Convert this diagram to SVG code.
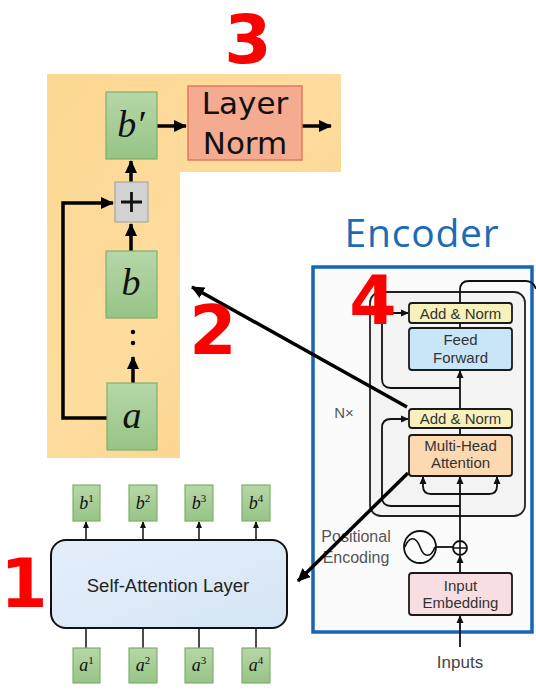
<svg xmlns="http://www.w3.org/2000/svg" width="536" height="695" viewBox="0 0 536 695">
<defs>
<linearGradient id="gOrange" x1="0" y1="0" x2="1" y2="1">
<stop offset="0" stop-color="#fdd892"/><stop offset="0.5" stop-color="#fddc9e"/><stop offset="1" stop-color="#fbd083"/>
</linearGradient>
<linearGradient id="gGreen" x1="0" y1="0" x2="0" y2="1">
<stop offset="0" stop-color="#b6d7a8"/><stop offset="1" stop-color="#97c486"/>
</linearGradient>
<linearGradient id="gBlue" x1="0" y1="0" x2="1" y2="1">
<stop offset="0" stop-color="#e4eefa"/><stop offset="1" stop-color="#d6e6f6"/>
</linearGradient>
<marker id="mThick" markerUnits="userSpaceOnUse" markerWidth="14" markerHeight="12" refX="12" refY="6" orient="auto">
<path d="M0,0 L13,6 L0,12 z" fill="#000"/>
</marker>
<marker id="mThin" markerUnits="userSpaceOnUse" markerWidth="8" markerHeight="8" refX="7" refY="4" orient="auto">
<path d="M0,0.5 L8,4 L0,7.5 z" fill="#111"/>
</marker>
<marker id="mSmall" markerUnits="userSpaceOnUse" markerWidth="7" markerHeight="6" refX="6" refY="3" orient="auto">
<path d="M0,0 L7,3 L0,6 z" fill="#111"/>
</marker>
<style>
.red{font-family:"DejaVu Sans",sans-serif;font-weight:bold;fill:#ff0000;font-size:68px;text-anchor:middle}
.gbox{fill:url(#gGreen);stroke:#7fb069;stroke-width:1.2}
.math{font-family:"Liberation Serif","DejaVu Serif",serif;font-style:italic;fill:#111;text-anchor:middle}
.enc{font-family:"Liberation Sans",Arial,sans-serif;font-size:15px;fill:#333;text-anchor:middle}
.ebox{stroke:#1a1a1a;stroke-width:1.8}
.thick{fill:none;stroke:#000;stroke-width:3.5}
.thin{fill:none;stroke:#111;stroke-width:1.8}
.sl{fill:none;stroke:#111;stroke-width:1.5}
</style>
</defs>
<rect width="536" height="695" fill="#fff"/>

<g id="residual-panel">
<path d="M47,74 H341 V172 H180 V458 H47 Z" fill="url(#gOrange)"/>
</g>

<g id="encoder-frame">
<rect x="313" y="267" width="219" height="365" fill="#fbfbfb" stroke="#1666b2" stroke-width="3.5"/>
<text x="422" y="247" font-family="'Open Sans','Noto Sans',sans-serif" font-size="39" letter-spacing="0.8" fill="#1a6cb5" text-anchor="middle">Encoder</text>
<rect x="370" y="292" width="155" height="224" rx="11" fill="#f3f3f3" stroke="#222" stroke-width="1.8"/>
<text x="344" y="418" font-family="'Liberation Sans',Arial,sans-serif" font-size="15" fill="#555" text-anchor="middle">N×</text>
</g>

<g id="connectors">
<path class="thick" d="M157,126 H186" marker-end="url(#mThick)"/>
<path class="thick" d="M302,126 H331" marker-end="url(#mThick)"/>
<path class="thick" d="M131,182 V161" marker-end="url(#mThick)"/>
<path class="thick" d="M131,251 V224" marker-end="url(#mThick)"/>
<path class="thick" d="M133,383 V357" marker-end="url(#mThick)"/>
<path class="thick" d="M107,418 H63 V203 H113" marker-end="url(#mThick)"/>
<circle cx="133" cy="332" r="2.2" fill="#000"/>
<circle cx="133" cy="343" r="2.2" fill="#000"/>

<path class="sl" d="M86,540 V522" marker-end="url(#mSmall)"/>
<path class="sl" d="M143,540 V522" marker-end="url(#mSmall)"/>
<path class="sl" d="M199,540 V522" marker-end="url(#mSmall)"/>
<path class="sl" d="M256,540 V522" marker-end="url(#mSmall)"/>
<path class="sl" d="M86,648 V628"/>
<path class="sl" d="M143,648 V628"/>
<path class="sl" d="M199,648 V628"/>
<path class="sl" d="M256,648 V628"/>

<path class="thin" d="M460,647 V616" marker-end="url(#mThin)"/>
<path class="thin" d="M460,573 V556" marker-end="url(#mThin)"/>
<path class="thin" d="M460,541 V477" marker-end="url(#mThin)"/>
<path class="thin" d="M460,494 H431 Q423,494 423,486 V477" marker-end="url(#mThin)"/>
<path class="thin" d="M460,494 H489 Q497,494 497,486 V477" marker-end="url(#mThin)"/>
<path class="thin" d="M460,435 V428"/>
<path class="thin" d="M460,409 V371" marker-end="url(#mThin)"/>
<path class="thin" d="M460,328 V323"/>
<path class="thin" d="M460,506 H391 Q382,506 382,497 V428 Q382,419 391,419 H408" marker-end="url(#mThin)"/>
<path class="thin" d="M460,388 H391 Q382,388 382,379 V322 Q382,313 391,313 H408" marker-end="url(#mThin)"/>
<path class="thin" d="M460,303 V290 Q460,281 469,281 H526 Q533,281 536,289"/>
<path class="thin" d="M436,547 H453"/>
</g>

<g id="pos-encoding">
<circle cx="420" cy="547" r="16" fill="none" stroke="#111" stroke-width="1.8"/>
<path d="M405,547 C409,536 416,536 420,547 C424,558 431,558 435,547" fill="none" stroke="#111" stroke-width="1.6"/>
<circle cx="460" cy="548" r="7" fill="#fff" stroke="#111" stroke-width="1.8"/>
<path d="M453,548 H467 M460,541 V555" stroke="#111" stroke-width="1.6"/>
<text x="356" y="542" font-family="'Liberation Sans',Arial,sans-serif" font-size="16" fill="#555" text-anchor="middle">Positional</text>
<text x="356" y="563" font-family="'Liberation Sans',Arial,sans-serif" font-size="16" fill="#555" text-anchor="middle">Encoding</text>
</g>

<g id="add-norm-top">
<rect class="ebox" x="409" y="303" width="103" height="20" rx="3" fill="#f7f2bb"/>
<text class="enc" x="460.5" y="318.5">Add &amp; Norm</text>
</g>
<g id="feed-forward">
<rect class="ebox" x="409" y="328" width="103" height="42" rx="3" fill="#c9e6f8"/>
<text class="enc" x="460.5" y="345">Feed</text>
<text class="enc" x="460.5" y="363">Forward</text>
</g>
<g id="add-norm-bottom">
<rect class="ebox" x="409" y="409" width="103" height="19" rx="3" fill="#f7f2bb"/>
<text class="enc" x="460.5" y="424">Add &amp; Norm</text>
</g>
<g id="multi-head-attention">
<rect class="ebox" x="409" y="435" width="103" height="41" rx="3" fill="#fcd9b0"/>
<text class="enc" x="460.5" y="451">Multi-Head</text>
<text class="enc" x="460.5" y="468">Attention</text>
</g>
<g id="input-embedding">
<rect class="ebox" x="409" y="573" width="103" height="42" rx="3" fill="#f8dde1"/>
<text class="enc" x="460.5" y="591">Input</text>
<text class="enc" x="460.5" y="608">Embedding</text>
</g>
<text x="460" y="668" font-family="'Liberation Sans',Arial,sans-serif" font-size="17" fill="#444" text-anchor="middle">Inputs</text>

<g id="b-prime">
<rect class="gbox" x="106" y="92" width="51" height="67"/>
<text class="math" x="131" y="137" font-size="38">b′</text>
</g>
<g id="layer-norm">
<rect x="188" y="86" width="114" height="74" fill="#f4ab90" stroke="#e27a5e" stroke-width="1.5"/>
<text x="245" y="114" font-family="'DejaVu Sans',sans-serif" font-size="31" fill="#111" text-anchor="middle">Layer</text>
<text x="245" y="154" font-family="'DejaVu Sans',sans-serif" font-size="31" fill="#111" text-anchor="middle">Norm</text>
</g>
<g id="plus">
<rect x="115" y="182" width="33" height="40" fill="#d2d2d2" stroke="#a8a8a8" stroke-width="1.2"/>
<path d="M121,202 H142 M131.5,192 V212" stroke="#111" stroke-width="2.8"/>
</g>
<g id="b">
<rect class="gbox" x="106" y="251" width="51" height="67"/>
<text class="math" x="131" y="295" font-size="38">b</text>
</g>
<g id="a">
<rect class="gbox" x="107" y="383" width="50" height="67"/>
<text class="math" x="132" y="428" font-size="38">a</text>
</g>

<g id="self-attention-layer">
<rect x="51" y="540" width="236" height="88" rx="15" fill="url(#gBlue)" stroke="#111" stroke-width="2"/>
<text x="168" y="592" font-family="'Liberation Sans',Arial,sans-serif" font-size="18.5" fill="#222" text-anchor="middle">Self-Attention Layer</text>
</g>
<g id="outputs">
<rect class="gbox" x="73" y="485" width="27" height="36"/><text class="math" x="86.5" y="509" font-size="18">b<tspan font-size="11" dy="-7" font-style="normal">1</tspan></text>
<rect class="gbox" x="129" y="485" width="28" height="36"/><text class="math" x="143" y="509" font-size="18">b<tspan font-size="11" dy="-7" font-style="normal">2</tspan></text>
<rect class="gbox" x="185" y="485" width="28" height="36"/><text class="math" x="199" y="509" font-size="18">b<tspan font-size="11" dy="-7" font-style="normal">3</tspan></text>
<rect class="gbox" x="242" y="485" width="28" height="36"/><text class="math" x="256" y="509" font-size="18">b<tspan font-size="11" dy="-7" font-style="normal">4</tspan></text>
</g>
<g id="inputs">
<rect class="gbox" x="73" y="648" width="27" height="35"/><text class="math" x="86.5" y="671" font-size="18">a<tspan font-size="11" dy="-7" font-style="normal">1</tspan></text>
<rect class="gbox" x="129" y="648" width="28" height="35"/><text class="math" x="143" y="671" font-size="18">a<tspan font-size="11" dy="-7" font-style="normal">2</tspan></text>
<rect class="gbox" x="185" y="648" width="28" height="35"/><text class="math" x="199" y="671" font-size="18">a<tspan font-size="11" dy="-7" font-style="normal">3</tspan></text>
<rect class="gbox" x="242" y="648" width="28" height="35"/><text class="math" x="256" y="671" font-size="18">a<tspan font-size="11" dy="-7" font-style="normal">4</tspan></text>
</g>

<g id="pointer-arrows">
<path class="thick" d="M407,407 L192,287" marker-end="url(#mThick)"/>
<path class="thick" d="M408,473 L298,581" marker-end="url(#mThick)"/>
</g>

<g id="labels">
<text class="red" x="248" y="63">3</text>
<text class="red" x="213" y="354">2</text>
<text class="red" x="373" y="324">4</text>
<text class="red" x="24" y="607">1</text>
</g>
</svg>
